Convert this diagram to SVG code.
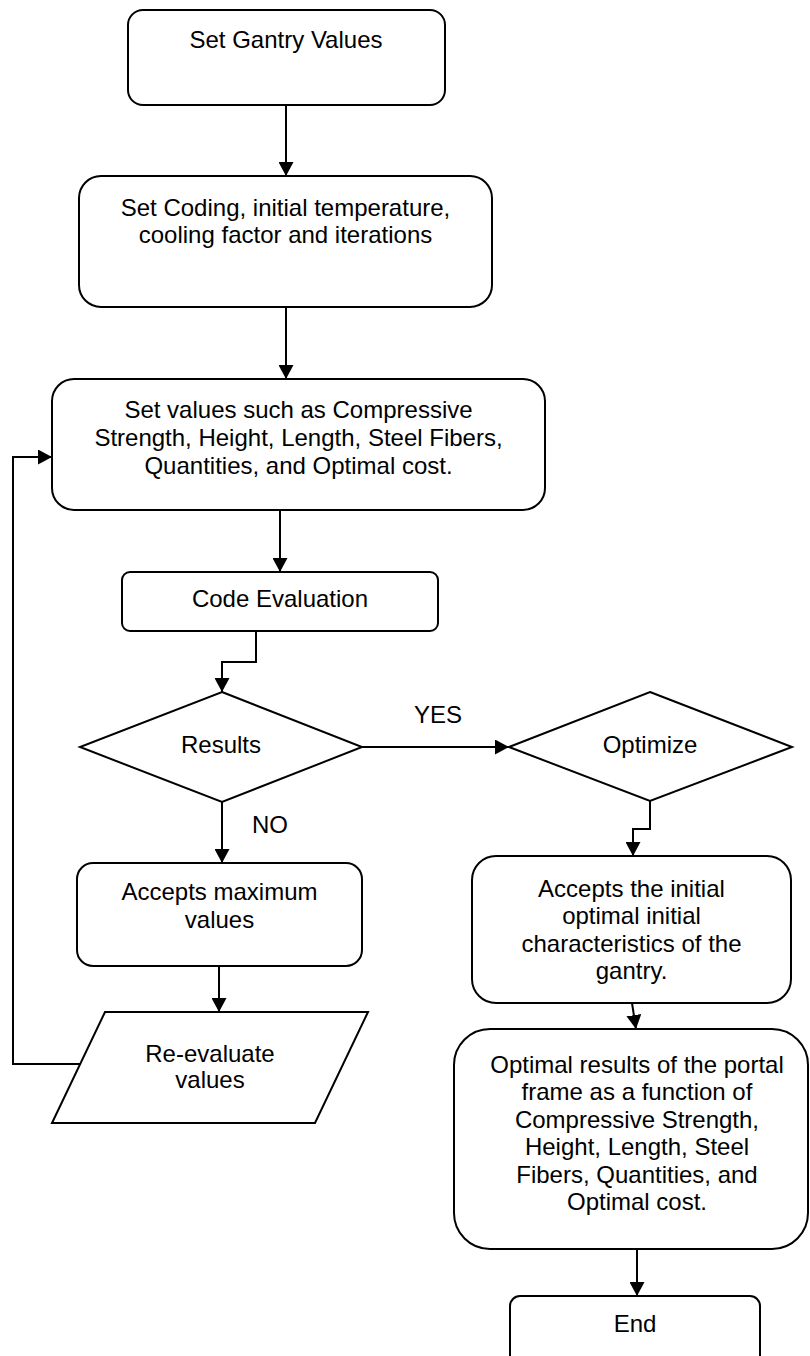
<svg xmlns="http://www.w3.org/2000/svg" width="810" height="1356" viewBox="0 0 810 1356">
<defs>
<style>
.n{fill:#fff;stroke:#000;stroke-width:2}
.t{font-family:"Liberation Sans",Arial,sans-serif;font-size:24px;fill:#000;text-anchor:middle}
.c{fill:none;stroke:#000;stroke-width:2}
</style>
<marker id="ah" viewBox="0 0 14 15" refX="14" refY="7.5" markerWidth="14" markerHeight="15" markerUnits="userSpaceOnUse" orient="auto">
<path d="M0,0 L14,7.5 L0,15 z" fill="#000"/>
</marker>
</defs>
<rect width="810" height="1356" fill="#fff"/>
<g id="connectors">
<path class="c" d="M286,105 V176" marker-end="url(#ah)"/>
<path class="c" d="M286,307 V379" marker-end="url(#ah)"/>
<path class="c" d="M280,510 V572" marker-end="url(#ah)"/>
<path class="c" d="M256,631 V662 H222 V692" marker-end="url(#ah)"/>
<path class="c" d="M362,747 H509" marker-end="url(#ah)"/>
<path class="c" d="M222,802 V863" marker-end="url(#ah)"/>
<path class="c" d="M650,801 V829 H633 V856" marker-end="url(#ah)"/>
<path class="c" d="M219,966 V1012" marker-end="url(#ah)"/>
<path class="c" d="M632,1003 L636,1029" marker-end="url(#ah)"/>
<path class="c" d="M637,1249 V1296" marker-end="url(#ah)"/>
<path class="c" d="M80,1064 H13 V457 H52" marker-end="url(#ah)"/>
<text class="t" x="438" y="723">YES</text>
<text class="t" x="270" y="833">NO</text>
</g>
<g id="n1">
<rect class="n" x="128" y="10" width="317" height="95" rx="15"/>
<text class="t" x="286" y="48">Set Gantry Values</text>
</g>
<g id="n2">
<rect class="n" x="79" y="176" width="413" height="131" rx="22"/>
<text class="t" x="285.5" y="216">Set Coding, initial temperature,</text>
<text class="t" x="285.5" y="243">cooling factor and iterations</text>
</g>
<g id="n3">
<rect class="n" x="52" y="379" width="493" height="131" rx="22"/>
<text class="t" x="298.5" y="418">Set values such as Compressive</text>
<text class="t" x="298.5" y="446">Strength, Height, Length, Steel Fibers,</text>
<text class="t" x="298.5" y="474">Quantities, and Optimal cost.</text>
</g>
<g id="n4">
<rect class="n" x="122" y="572" width="316" height="59" rx="8"/>
<text class="t" x="280" y="607">Code Evaluation</text>
</g>
<g id="n5">
<polygon class="n" points="222,692 362,747 222,802 80,747"/>
<text class="t" x="221" y="753">Results</text>
</g>
<g id="n6">
<polygon class="n" points="650,692 792,747 650,801 509,747"/>
<text class="t" x="650" y="753">Optimize</text>
</g>
<g id="n7">
<rect class="n" x="77" y="863" width="285" height="103" rx="16"/>
<text class="t" x="219.5" y="900">Accepts maximum</text>
<text class="t" x="219.5" y="928">values</text>
</g>
<g id="n8">
<polygon class="n" points="105,1012 368,1012 315,1123 52,1123"/>
<text class="t" x="210" y="1062">Re-evaluate</text>
<text class="t" x="210" y="1088">values</text>
</g>
<g id="n9">
<rect class="n" x="472" y="856" width="319" height="147" rx="24"/>
<text class="t" x="631.5" y="897">Accepts the initial</text>
<text class="t" x="631.5" y="924">optimal initial</text>
<text class="t" x="631.5" y="952">characteristics of the</text>
<text class="t" x="631.5" y="979">gantry.</text>
</g>
<g id="n10">
<rect class="n" x="454" y="1029" width="354" height="220" rx="36"/>
<text class="t" x="637" y="1073">Optimal results of the portal</text>
<text class="t" x="637" y="1100">frame as a function of</text>
<text class="t" x="637" y="1128">Compressive Strength,</text>
<text class="t" x="637" y="1155">Height, Length, Steel</text>
<text class="t" x="637" y="1183">Fibers, Quantities, and</text>
<text class="t" x="637" y="1210">Optimal cost.</text>
</g>
<g id="n11">
<rect class="n" x="510" y="1296" width="250" height="80" rx="10"/>
<text class="t" x="635" y="1332">End</text>
</g>
</svg>
